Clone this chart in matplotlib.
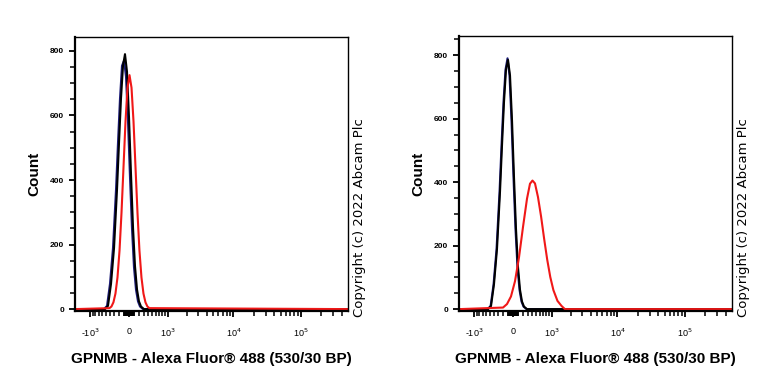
import numpy as np
import matplotlib
matplotlib.use('Agg')
import matplotlib.pyplot as plt

plt.rcParams['font.family'] = ['Liberation Sans', 'DejaVu Sans']

# ---- data (fluorescence value, count) ----
# left panel
left_black_x = [-1745, -518, -443, -371, -303, -239, -197, -157, -117, -78, -39, 0, 39, 78, 117, 157, 197, 239, 303, 500000]
left_black_y = [0, 0, 10, 78, 189, 370, 516, 653, 754, 790, 736, 594, 417, 253, 133, 61, 24, 8, 0, 0]
left_blue_x = [-1745, -545, -467, -395, -326, -260, -218, -177, -137, -97, -58, -19, 19, 58, 97, 137, 177, 218, 282, 500000]
left_blue_y = [0, 0, 10, 78, 189, 370, 516, 653, 754, 770, 720, 580, 410, 250, 130, 60, 24, 8, 0, 0]
left_red_x = [-1745, -408, -361, -316, -272, -229, -187, -147, -107, -68, -29, 10, 49, 88, 127, 167, 207, 249, 292, 336, 381, 428, 500000]
left_red_y = [0, 3, 8, 21, 48, 98, 181, 298, 440, 581, 686, 725, 686, 581, 440, 298, 181, 98, 48, 21, 8, 3, 0]

# right panel
right_black_x = [-1745, -545, -467, -395, -326, -260, -218, -177, -137, -97, -58, -19, 19, 58, 97, 137, 177, 218, 282, 500000]
right_black_y = [0, 0, 10, 78, 189, 370, 516, 653, 754, 785, 736, 594, 417, 253, 133, 61, 24, 8, 0, 0]
right_blue_x = [-1745, -555, -477, -405, -336, -270, -228, -187, -147, -107, -68, -29, 9, 48, 87, 127, 167, 208, 272, 500000]
right_blue_y = [0, 0, 10, 78, 189, 370, 516, 653, 754, 790, 736, 594, 417, 253, 133, 61, 24, 8, 0, 0]
right_red_x = [-1745, -197, -117, -39, 39, 117, 197, 282, 348, 406, 467, 545, 631, 723, 824, 934, 1055, 1233, 1434, 1622, 500000]
right_red_y = [0, 5, 16, 40, 88, 163, 258, 348, 395, 405, 396, 353, 292, 222, 156, 101, 60, 26, 10, 0, 0]

x_major = [-1000, 0, 1000, 10000, 100000]
x_major_labels = ['-10$^3$', '0', '10$^3$', '10$^4$', '10$^5$']
y_major = [0, 200, 400, 600, 800]

x_label = 'GPNMB - Alexa Fluor\u00ae 488 (530/30 BP)'
copyright_text = 'Copyright (c) 2022 Abcam Plc'

fig = plt.figure(figsize=(7.68, 3.84), dpi=100)


def style_axis(ax, ymax):
    ax.set_xscale('asinh', linear_width=568)
    ax.set_xlim(-1745, 500000)
    ax.set_ylim(-6, ymax)

    minor = list(range(-900, 0, 100)) + list(range(-90, 0, 10)) + list(range(10, 100, 10)) \
        + list(range(100, 1000, 100)) + list(range(2000, 10000, 1000)) \
        + list(range(20000, 100000, 10000)) + [200000, 300000, 400000]
    ax.set_xticks(x_major)
    ax.set_xticklabels(x_major_labels, fontsize=6.5)
    ax.set_xticks(minor, minor=True)
    ax.set_xticklabels([], minor=True)

    ax.set_yticks(y_major)
    ax.set_yticklabels([str(v) for v in y_major], fontsize=6, fontweight='bold')
    ax.set_yticks(np.arange(50, ymax, 50), minor=True)

    ax.tick_params(axis='both', which='major', direction='out', length=4.5, width=1.3, top=False, right=False)
    ax.tick_params(axis='both', which='minor', direction='out', length=3.5, width=1.1, top=False, right=False)
    ax.tick_params(axis='x', which='major', pad=7)

    ax.spines['left'].set_linewidth(1.6)
    ax.spines['bottom'].set_linewidth(1.6)
    ax.spines['top'].set_linewidth(1.0)
    ax.spines['right'].set_linewidth(1.0)

    ax.set_ylabel('Count', fontsize=11, fontweight='bold', labelpad=6)
    ax.set_xlabel(x_label, fontsize=11, fontweight='bold', labelpad=9)


ax1 = fig.add_axes([0.0977, 0.190, 0.3555, 0.7135])
ax1.plot(left_blue_x, left_blue_y, color='#1c1c78', lw=1.5)
ax1.plot(left_black_x, left_black_y, color='black', lw=1.5)
ax1.plot(left_red_x, left_red_y, color='#f01818', lw=1.5)
style_axis(ax1, 843)

ax2 = fig.add_axes([0.5977, 0.190, 0.3555, 0.7160])
ax2.plot(right_blue_x, right_blue_y, color='#1c1c78', lw=1.5)
ax2.plot(right_black_x, right_black_y, color='black', lw=1.5)
ax2.plot(right_red_x, right_red_y, color='#f01818', lw=1.5)
style_axis(ax2, 860)

fig.text(0.468, 0.174, copyright_text, rotation=90, fontsize=9.5, family='DejaVu Sans',
         va='bottom', ha='center')
fig.text(0.968, 0.174, copyright_text, rotation=90, fontsize=9.5, family='DejaVu Sans',
         va='bottom', ha='center')

plt.savefig('out.png', dpi=100)
plt.close()
